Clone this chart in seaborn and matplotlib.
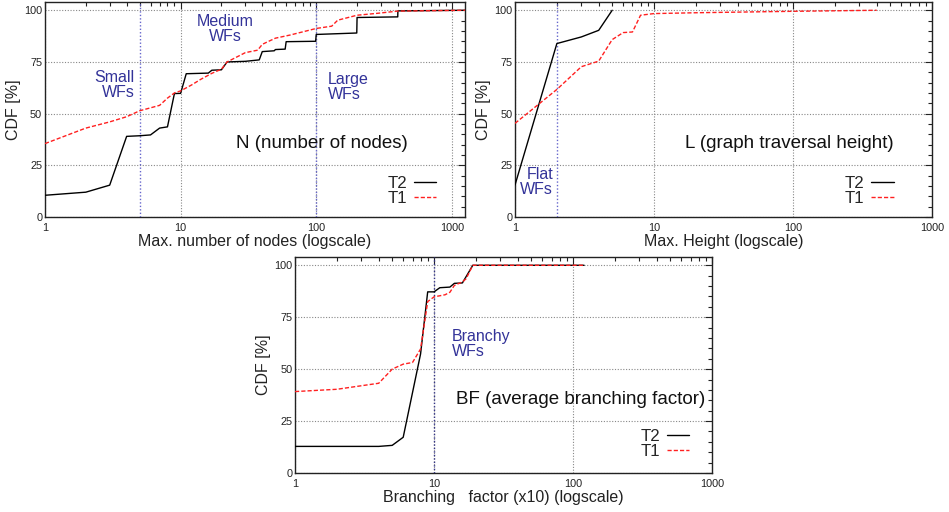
import numpy as np
import pandas as pd
import seaborn as sns
import matplotlib.pyplot as plt
from matplotlib.ticker import MultipleLocator, LogLocator, NullFormatter

# N: max. number of nodes
n_x_t2 = [1, 2, 3, 4, 5, 6, 7, 8, 9, 10, 11, 16, 17, 20, 22, 30, 38, 40, 49, 50,
          59, 60, 99, 100, 199, 200, 399, 400, 1250]
n_y_t2 = [10.5, 12, 15.4, 39, 39.3, 39.7, 43, 43.6, 59.7, 59.8, 69.3, 69.6, 71, 71.2,
          75, 75.3, 76, 80, 80.4, 81, 81.2, 84.8, 85, 88.3, 89, 96.5, 96.8, 99.7, 100]
n_x_t1 = [1, 2, 3, 4, 5, 6, 7, 8, 9, 10, 12, 14, 17, 20, 22, 30, 37, 40, 43, 50, 64,
          100, 130, 144, 200, 280, 400, 1250]
n_y_t1 = [35.5, 43, 46, 48.5, 51.4, 52.8, 54, 57.5, 60, 61, 63.8, 66.5, 69.5, 71.5,
          75, 79.5, 80.7, 83.5, 84.5, 86.5, 88, 91.2, 92.3, 95.2, 97.6, 98.5, 99.6, 100]

# L: max. height
l_x_t2 = [1, 2, 3, 4, 5]
l_y_t2 = [15.5, 83.9, 87.1, 90.3, 100]
l_x_t1 = [1, 2, 3, 4, 5, 6, 7, 8, 10, 20, 50, 100, 400]
l_y_t1 = [45.3, 61.7, 72.7, 75.4, 85.8, 89.2, 89.5, 97.6, 98.4, 98.8, 99.2, 99.5, 100]

# BF: branching factor (x10)
b_x_t2 = [1, 4, 5, 6, 8, 9, 10, 11, 13, 14, 16, 19, 120]
b_y_t2 = [12.8, 12.8, 13.3, 17.2, 57.3, 87.2, 87.2, 89.2, 89.5, 91.3, 91.5, 100, 100]
b_x_t1 = [1, 2, 3, 4, 5, 6, 7, 8, 9, 10, 12, 13, 14, 16, 17, 19, 120]
b_y_t1 = [39.2, 40.3, 42, 43.2, 50, 52.4, 53.2, 59.7, 82.5, 84.8, 85.8, 87, 90.3,
          92, 93.5, 100, 100]

ytick_vals = [0, 25, 50, 75, 100]
xtick_vals = [1, 10, 100, 1000]

sns.set_style('white')
plt.rcParams['font.family'] = ['Liberation Sans', 'DejaVu Sans']

BLUE_TXT = '#333399'
BLUE_LN = '#6666cc'
FS = 11.5


def setup_axes(ax, xmax, xlabel):
    ax.set_xscale('log')
    ax.set_xlim(1, xmax)
    ax.set_ylim(0, 104)
    ax.set_xticks(xtick_vals, labels=[str(v) for v in xtick_vals])
    ax.xaxis.set_minor_locator(LogLocator(base=10, subs=np.arange(2, 10)))
    ax.xaxis.set_minor_formatter(NullFormatter())
    ax.set_yticks(ytick_vals, labels=[str(v) for v in ytick_vals])
    ax.yaxis.set_minor_locator(MultipleLocator(5))
    ax.tick_params(which='both', direction='in', top=True, right=True,
                   colors='#222222', labelsize=7.8, width=0.8)
    ax.tick_params(which='major', length=5)
    ax.tick_params(which='minor', length=3)
    ax.tick_params(axis='x', pad=4)
    ax.tick_params(axis='y', pad=2)
    for s in ax.spines.values():
        s.set_color('#222222')
        s.set_linewidth(1.0)
    ax.grid(which='major', color='#888888', linestyle=(0, (1, 1.5)), linewidth=0.8)
    ax.set_axisbelow(True)
    ax.set_xlabel(xlabel, fontsize=FS, color='#222222', labelpad=1)
    ax.set_ylabel('CDF [%]', fontsize=FS, color='#222222', labelpad=2)


def draw_series(ax, xs2, ys2, xs1, ys1, leg_x, leg_y):
    df2 = pd.DataFrame({'x': xs2, 'cdf': ys2})
    df1 = pd.DataFrame({'x': xs1, 'cdf': ys1})
    sns.lineplot(data=df2, x='x', y='cdf', ax=ax, color='black', linewidth=1.0,
                 label='T2', zorder=4)
    sns.lineplot(data=df1, x='x', y='cdf', ax=ax, color='#ff2020', linewidth=1.0,
                 linestyle=(0, (3, 1.5)), label='T1', zorder=4)
    ax.legend(loc='center right', bbox_to_anchor=(leg_x, leg_y), frameon=False,
              markerfirst=False, handlelength=1.3, handletextpad=0.4,
              labelspacing=0.0, borderpad=0, fontsize=12.2)


fig = plt.figure(figsize=(9.49, 5.12), dpi=100)
ax1 = fig.add_axes([0.0474, 0.5762, 0.4426, 0.4199])
ax2 = fig.add_axes([0.5427, 0.5762, 0.4394, 0.4199])
ax3 = fig.add_axes([0.3109, 0.0762, 0.4394, 0.4219])

# top-left: N
setup_axes(ax1, 1250, 'Max. number of nodes (logscale)')
ax1.axvline(5, color=BLUE_LN, linestyle=(0, (1, 1.5)), linewidth=1.0, zorder=3)
ax1.axvline(100, color=BLUE_LN, linestyle=(0, (1, 1.5)), linewidth=1.0, zorder=3)
draw_series(ax1, n_x_t2, n_y_t2, n_x_t1, n_y_t1, 0.952, 0.123)
ax1.text(4.6, 63.8, 'Small\nWFs', color=BLUE_TXT, fontsize=FS, ha='right',
         va='center', multialignment='right', linespacing=1.0)
ax1.text(21.2, 90.8, 'Medium\nWFs', color=BLUE_TXT, fontsize=FS, ha='center',
         va='center', linespacing=1.0)
ax1.text(121, 62.8, 'Large\nWFs', color=BLUE_TXT, fontsize=FS, ha='left',
         va='center', multialignment='left', linespacing=1.0)
ax1.text(110, 35.7, 'N (number of nodes)', color='#111111', fontsize=13.5,
         ha='center', va='center')

# top-right: L
setup_axes(ax2, 1000, 'Max. Height (logscale)')
ax2.axvline(2, color=BLUE_LN, linestyle=(0, (1, 1.5)), linewidth=1.0, zorder=3)
draw_series(ax2, l_x_t2, l_y_t2, l_x_t1, l_y_t1, 0.928, 0.123)
ax2.text(1.88, 17.1, 'Flat\nWFs', color=BLUE_TXT, fontsize=FS, ha='right',
         va='center', multialignment='right', linespacing=1.0)
ax2.text(94, 35.7, 'L (graph traversal height)', color='#111111', fontsize=13.5,
         ha='center', va='center')

# bottom: BF
setup_axes(ax3, 1000, 'Branching   factor (x10) (logscale)')
ax3.axvline(10, color='#333388', linestyle=(0, (1, 1.5)), linewidth=1.0, zorder=3)
draw_series(ax3, b_x_t2, b_y_t2, b_x_t1, b_y_t1, 0.966, 0.133)
ax3.text(13.5, 62.1, 'Branchy\nWFs', color=BLUE_TXT, fontsize=FS, ha='left',
         va='center', multialignment='left', linespacing=1.0)
ax3.text(114, 35.4, 'BF (average branching factor)', color='#111111', fontsize=13.5,
         ha='center', va='center')

fig.savefig('out.png', dpi=100)
